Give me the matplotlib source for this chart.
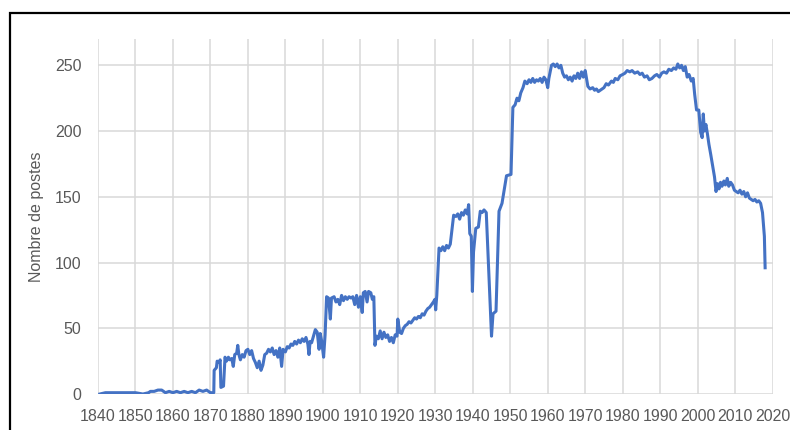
import matplotlib.pyplot as plt
from matplotlib.patches import Rectangle

plt.rcParams['font.family'] = ['Liberation Sans', 'DejaVu Sans']

years = [
    1840.5, 1842, 1844, 1846, 1848, 1850, 1852, 1853.5, 1854, 1855, 1856, 1857, 1858, 1859,
    1860, 1861, 1862, 1863, 1864, 1865, 1866, 1867, 1868, 1869, 1870, 1870.9,
    1871.0, 1871.6, 1871.8, 1872.3, 1872.6, 1872.8, 1873.5, 1873.9, 1874.3, 1874.8, 1875.2,
    1875.7, 1876.1, 1876.5, 1877, 1877.3, 1877.6, 1878, 1878.5, 1879, 1879.5, 1880, 1880.5,
    1881, 1881.5, 1882, 1882.5, 1883, 1883.5, 1884, 1884.5, 1885, 1885.5, 1886, 1886.5, 1887,
    1887.5, 1888, 1888.5, 1889, 1889.4, 1890, 1890.5, 1891, 1891.5, 1892, 1892.5, 1893,
    1893.5, 1894, 1894.5, 1895, 1895.5, 1896, 1896.3, 1896.6, 1897, 1897.5, 1898, 1898.5,
    1899, 1899.3, 1899.7, 1900.2, 1900.6, 1901,
    1901.5, 1902, 1902.3, 1903, 1903.5, 1904, 1904.5, 1905, 1905.5, 1906, 1906.5, 1907,
    1907.5, 1908, 1908.5, 1909, 1909.5, 1910, 1910.5, 1910.8, 1911.3, 1911.8, 1912.2, 1912.8,
    1913.2, 1913.6, 1913.9, 1914.3, 1914.8, 1915.3, 1915.8, 1916.3, 1916.8, 1917.3, 1917.8,
    1918.3, 1918.8, 1919.3, 1919.8, 1920, 1920.5, 1921, 1921.5, 1922, 1922.5, 1923, 1923.5,
    1924, 1924.5, 1925, 1925.5, 1926, 1926.5, 1927, 1927.5, 1928, 1928.5, 1929, 1929.5,
    1929.9, 1930.1, 1930.4,
    1931, 1931.5, 1932, 1932.5, 1933, 1933.5, 1934, 1934.9, 1935.5, 1936, 1936.5, 1937,
    1937.5, 1938, 1938.5, 1938.9, 1939.2, 1939.6, 1939.9, 1940.2, 1940.8, 1941.5, 1942,
    1942.5, 1943, 1943.6, 1945, 1945.4, 1946.2, 1947, 1947.8, 1949, 1950.2, 1950.7,
    1951.3, 1951.8, 1952.3, 1952.8, 1953.4, 1953.9, 1954.5, 1955, 1955.5, 1956, 1956.5, 1957,
    1957.5, 1958, 1958.5, 1959, 1959.5, 1960, 1960.3, 1961, 1961.5, 1962, 1962.5, 1963,
    1963.5, 1964, 1964.5, 1965, 1965.5, 1966, 1966.5, 1967, 1967.5, 1968, 1968.5, 1969,
    1969.5, 1970, 1970.7, 1971.3, 1972, 1972.5, 1973, 1973.5, 1974, 1974.5, 1975, 1975.6,
    1976.2, 1977, 1977.5, 1978, 1978.7, 1979.3, 1980, 1980.6, 1981.2, 1981.9, 1982.5, 1983.2,
    1984, 1984.6, 1985.2, 1985.8, 1986.5, 1987.1, 1987.8, 1988.5, 1989.1, 1989.8, 1990.4,
    1991, 1991.7, 1992.3, 1993, 1993.6, 1994.2, 1994.7, 1995.2, 1995.7, 1996.2, 1996.7,
    1997.2, 1997.7, 1998.3, 1998.8, 1999.2, 1999.7,
    2000.3, 2000.8, 2001.2, 2001.5, 2001.8, 2002.2, 2002.6, 2003, 2003.5, 2003.9, 2004.5,
    2004.9, 2005.3, 2005.7, 2006.1, 2006.5, 2007, 2007.4, 2007.9, 2008.3, 2008.8, 2009.3,
    2009.8, 2010.3, 2010.8, 2011.3, 2011.8, 2012.3, 2012.8, 2013.3, 2013.8, 2014.3, 2014.8,
    2015.3, 2015.8, 2016.3, 2016.8, 2017.3, 2017.8, 2018,
]

postes = [
    0, 1, 1, 1, 1, 1, 0, 1, 2, 2, 3, 3, 1, 2,
    1, 2, 1, 2, 1, 2, 1, 3, 2, 3, 1, 1,
    18, 20, 25, 24, 26, 5, 6, 28, 25, 28, 26,
    27, 21, 30, 31, 37, 30, 26, 30, 28, 33, 34, 30,
    33, 27, 24, 20, 25, 18, 22, 30, 31, 34, 32, 35, 30,
    33, 28, 35, 21, 34, 32, 36, 35, 38, 37, 40, 38,
    41, 39, 42, 40, 43, 38, 30, 40, 39, 44, 49, 47,
    34, 46, 40, 28, 45, 74,
    73, 57, 73, 74, 70, 72, 68, 75, 71, 74, 72, 74,
    73, 74, 68, 75, 66, 74, 62, 77, 78, 70, 78, 77,
    72, 74, 37, 44, 42, 48, 42, 47, 43, 45, 40,
    43, 39, 45, 44, 57, 47, 46, 50, 52, 53, 55, 54,
    56, 58, 57, 59, 58, 61, 60, 63, 65, 66, 68, 70,
    72, 64, 75,
    111, 109, 112, 109, 113, 111, 114, 136, 135, 137, 133, 138,
    136, 140, 137, 144, 122, 120, 78, 108, 126, 127, 139,
    138, 140, 138, 44, 61, 63, 139, 145, 166, 167, 218,
    220, 225, 223, 229, 233, 238, 236, 239, 237, 240, 237, 239,
    238, 240, 237, 241, 239, 233, 240, 250, 251, 249, 251, 248,
    250, 244, 241, 242, 239, 241, 238, 242, 240, 244, 240, 245,
    241, 246, 234, 232, 233, 231, 232, 230, 231, 232, 233, 236,
    235, 238, 237, 240, 239, 242, 243, 244, 246, 245, 246, 244,
    245, 243, 244, 241, 242, 239, 240, 242, 243, 241, 244,
    245, 244, 247, 246, 248, 247, 251, 248, 250, 246, 249,
    241, 243, 238, 240, 228, 216,
    216, 199, 195, 213, 200, 205, 198, 190, 182, 175, 165,
    154, 160, 156, 161, 158, 162, 159, 164, 158, 161, 159,
    155, 154, 153, 155, 152, 154, 150, 153, 149, 148, 147,
    148, 146, 147, 145, 138, 120, 96,
]

x_ticks = list(range(1840, 2021, 10))
y_ticks = [0, 50, 100, 150, 200, 250]

fig = plt.figure(figsize=(7.9, 4.3), dpi=100)
ax = fig.add_axes([0.124, 0.0837, 0.854, 0.8256])

ax.plot(years, postes, color='#4472C4', linewidth=2.2)

ax.set_xlim(1840, 2020)
ax.set_ylim(0, 270)
ax.set_xticks(x_ticks)
ax.set_yticks(y_ticks)
ax.grid(True, color='#d9d9d9', linewidth=1.1)
ax.set_axisbelow(True)
for s in ax.spines.values():
    s.set_visible(False)
ax.tick_params(length=0, labelsize=11.5, labelcolor='#595959')
ax.tick_params(axis='y', pad=12)
ax.tick_params(axis='x', pad=11)
ax.set_ylabel('Nombre de postes', fontsize=11.5, color='#595959', labelpad=8)

# chart frame (cropped at right and bottom)
fig.patches.append(Rectangle((10 / 790, -0.05), 1.1, (430 - 13) / 430 + 0.05,
                             transform=fig.transFigure, fill=False,
                             edgecolor='black', linewidth=1.6))

fig.savefig('out.png', dpi=100)
